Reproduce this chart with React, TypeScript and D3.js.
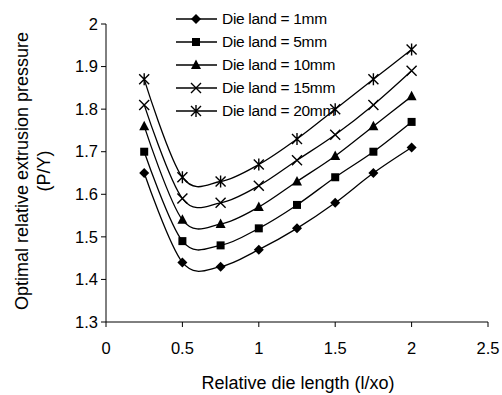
import React from 'react';
import * as d3 from 'd3';

const xValues = [0.25, 0.5, 0.75, 1.0, 1.25, 1.5, 1.75, 2.0];
const seriesNames = ['Die land = 1mm', 'Die land = 5mm', 'Die land = 10mm', 'Die land = 15mm', 'Die land = 20mm'];
const land1 = [1.65, 1.44, 1.43, 1.47, 1.52, 1.58, 1.65, 1.71];
const land5 = [1.70, 1.49, 1.48, 1.52, 1.575, 1.64, 1.70, 1.77];
const land10 = [1.76, 1.54, 1.53, 1.57, 1.63, 1.69, 1.76, 1.83];
const land15 = [1.81, 1.59, 1.58, 1.62, 1.68, 1.74, 1.81, 1.89];
const land20 = [1.87, 1.64, 1.63, 1.67, 1.73, 1.80, 1.87, 1.94];
const markers = ['diamond', 'square', 'triangle', 'cross', 'star'];
const xTicks = [0, 0.5, 1, 1.5, 2, 2.5];
const yTicks = [1.3, 1.4, 1.5, 1.6, 1.7, 1.8, 1.9, 2];

const series = [land1, land5, land10, land15, land20].map((vals, i) => ({
  name: seriesNames[i],
  marker: markers[i],
  points: vals.map((v, j) => [xValues[j], v] as [number, number]),
}));

const FONT = '"Liberation Sans", Arial, sans-serif';

// small marker glyph, centred on 0,0
function Marker({ type, x, y }: { type: string; x: number; y: number }) {
  const t = `translate(${x},${y})`;
  if (type === 'diamond') return <path transform={t} d="M0,-5L5,0L0,5L-5,0Z" fill="#000" />;
  if (type === 'square') return <rect transform={t} x={-4} y={-4} width={8} height={8} fill="#000" />;
  if (type === 'triangle') return <path transform={t} d="M0,-5.5L5,4L-5,4Z" fill="#000" />;
  if (type === 'cross')
    return <path transform={t} d="M-5,-5L5,5M5,-5L-5,5" stroke="#000" strokeWidth={1.4} fill="none" />;
  return (
    <path transform={t} d="M-5,-5L5,5M5,-5L-5,5M0,-6L0,6" stroke="#000" strokeWidth={1.4} fill="none" />
  );
}

export default function App() {
  const width = 502;
  const height = 395;

  const x = d3.scaleLinear().domain([0, 2.5]).range([106, 488]);
  const y = d3.scaleLinear().domain([1.3, 2]).range([322, 24]);

  const line = d3.line<[number, number]>()
    .x(d => x(d[0]))
    .y(d => y(d[1]))
    .curve(d3.curveCatmullRom.alpha(0));

  const legendY = d3.scalePoint<string>().domain(seriesNames).range([19, 111]);

  return (
    <svg width={width} height={height} style={{ position: 'absolute', left: 0, top: 0, background: '#fff' }}
      fontFamily={FONT}>
      {/* axes */}
      <line x1={x(0)} x2={x(0)} y1={y(2)} y2={y(1.3)} stroke="#000" />
      <line x1={x(0)} x2={x(2.5)} y1={y(1.3)} y2={y(1.3)} stroke="#000" />
      {yTicks.map(t => (
        <g key={'y' + t}>
          <line x1={x(0) - 5} x2={x(0)} y1={y(t)} y2={y(t)} stroke="#000" />
          <text x={x(0) - 8} y={y(t)} dy="0.35em" textAnchor="end" fontSize={16.5}>{t.toFixed(1).replace('2.0', '2')}</text>
        </g>
      ))}
      {xTicks.map(t => (
        <g key={'x' + t}>
          <line x1={x(t)} x2={x(t)} y1={y(1.3)} y2={y(1.3) + 5} stroke="#000" />
          <text x={x(t)} y={348} dy="0.35em" textAnchor="middle" fontSize={16.5}>{String(t)}</text>
        </g>
      ))}
      <text x={298} y={383} dy="0.35em" textAnchor="middle" fontSize={18}>
        Relative die length (l/xo)
      </text>
      <g transform="translate(28,171) rotate(-90)">
        <text x={0} y={0} textAnchor="middle" fontSize={18}>Optimal relative extrusion pressure</text>
        <text x={0} y={22} textAnchor="middle" fontSize={18}>(P/Y)</text>
      </g>

      {/* series */}
      {series.map(s => (
        <g key={s.name}>
          <path d={line(s.points) || ''} fill="none" stroke="#000" strokeWidth={1.3} />
          {s.points.map((p, j) => (
            <Marker key={j} type={s.marker} x={x(p[0])} y={y(p[1])} />
          ))}
        </g>
      ))}

      {/* legend */}
      {series.map(s => {
        const ly = legendY(s.name) as number;
        return (
          <g key={'l' + s.name}>
            <line x1={176} x2={217} y1={ly} y2={ly} stroke="#000" strokeWidth={1.3} />
            <Marker type={s.marker} x={196} y={ly} />
            <text x={222} y={ly} dy="0.35em" fontSize={15.5} letterSpacing={-0.3}>{s.name}</text>
          </g>
        );
      })}
    </svg>
  );
}
